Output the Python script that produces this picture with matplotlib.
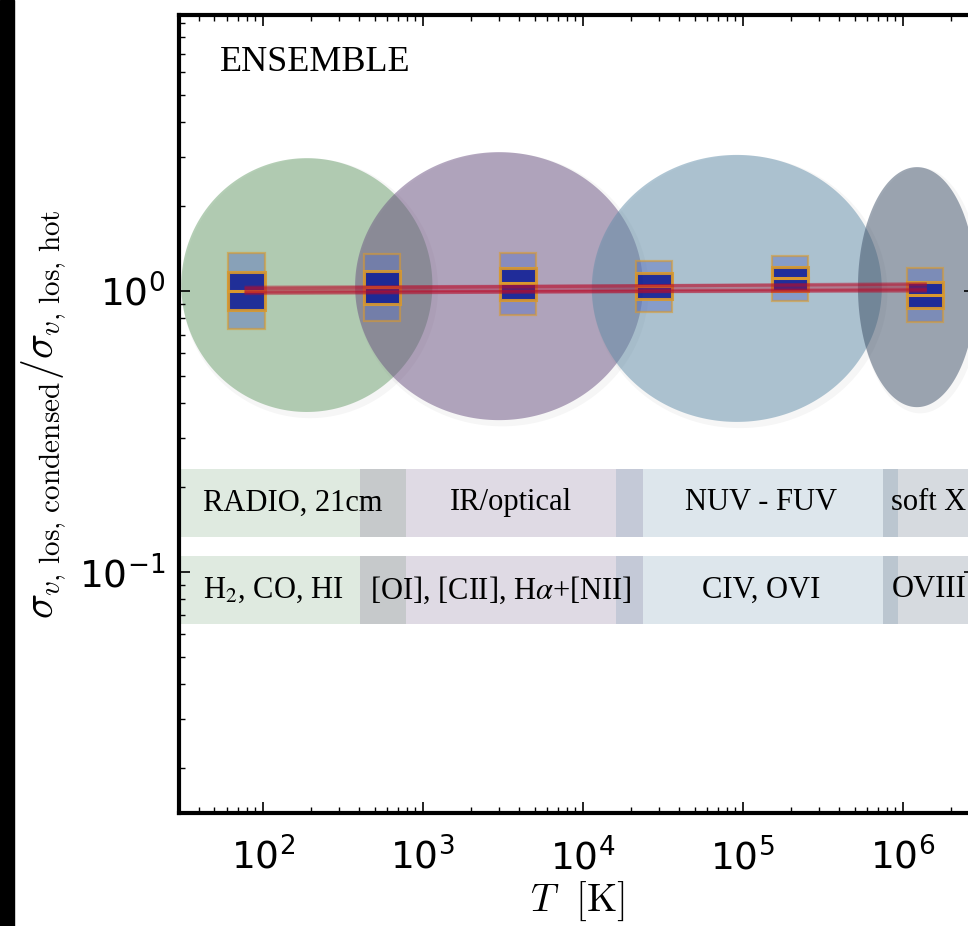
import numpy as np
import matplotlib.pyplot as plt
from matplotlib.patches import Rectangle

plt.rcParams['mathtext.fontset'] = 'cm'
plt.rcParams['axes.unicode_minus'] = False

# box statistics per temperature bin (ratio of velocity dispersions)
T_bins = [79, 557, 3945, 2.79e4, 1.98e5, 1.38e6]
p_lo = [0.732, 0.782, 0.821, 0.842, 0.921, 0.776]
q_lo = [0.856, 0.899, 0.929, 0.937, 1.000, 0.870]
median = [1.000, 1.033, 1.068, 1.042, 1.112, 0.968]
q_hi = [1.168, 1.178, 1.207, 1.159, 1.217, 1.077]
p_hi = [1.365, 1.354, 1.365, 1.279, 1.332, 1.207]

# power-law fits: value at first and at last bin
fit_lo = [1.03, 1.02, 1.00, 0.99, 0.98]
fit_hi = [1.05, 1.06, 1.02, 1.00, 1.01]

# phase regions (ellipses): T range and ratio range
phase_Tmin = [31, 378, 1.14e4, 5.25e5]
phase_Tmax = [1150, 2.38e4, 7.4e5, 2.87e6]
phase_rmin = [0.371, 0.347, 0.342, 0.386]
phase_rmax = [2.97, 3.12, 3.05, 2.76]
phase_colors = ['#6b9f6d', '#6a5181', '#618da9', '#3f5169']

# observational bands
band_Tmin = [30, 405, 1.61e4, 7.5e5]
band_Tmax = [787, 2.38e4, 9.3e5, 1e7]
row1_r = [0.133, 0.233]
row2_r = [0.0653, 0.114]
row1_labels = ['RADIO, 21cm', 'IR/optical', 'NUV - FUV', 'soft X']
row2_labels = ['H$_2$, CO, HI', '[OI], [CII], H$\\alpha$+[NII]', 'CIV, OVI', 'OVIII']
row1_T = [155, 3550, 1.3e5, 8.5e5]
row2_T = [117, 3090, 1.3e5, 8.5e5]

fig = plt.figure(figsize=(9.68, 9.26), dpi=100)
fig.patches.append(Rectangle((0, 0), 14/968, 1, transform=fig.transFigure,
                             color='black', zorder=0))
ax = fig.add_axes([179/968, 113/926, 796/968, 798/926])
ax.set_xscale('log')
ax.set_yscale('log')

# phase ellipses, drawn in log space
t = np.linspace(0, 2*np.pi, 300)
for i in range(4):
    lx0, lx1 = np.log10(phase_Tmin[i]), np.log10(phase_Tmax[i])
    ly0, ly1 = np.log10(phase_rmin[i]), np.log10(phase_rmax[i])
    cx, cy = (lx0 + lx1)/2, (ly0 + ly1)/2
    rx, ry = (lx1 - lx0)/2, (ly1 - ly0)/2
    # soft shadow
    ax.fill(10**(cx + 0.02 + (rx + 0.015)*np.cos(t)), 10**(cy - 0.012 + (ry + 0.01)*np.sin(t)),
            color='0.5', alpha=0.07, lw=0, zorder=1)
    ax.fill(10**(cx + rx*np.cos(t)), 10**(cy + ry*np.sin(t)),
            color=phase_colors[i], alpha=0.5, lw=0, zorder=1)

# bands with labels
for i in range(4):
    for r in (row1_r, row2_r):
        ax.fill_between([band_Tmin[i], band_Tmax[i]], r[0], r[1],
                        color=phase_colors[i], alpha=0.21, lw=0, zorder=1)
for i in range(4):
    ha = 'left' if i == 3 else 'center'
    ax.text(row1_T[i], np.sqrt(row1_r[0]*row1_r[1]), row1_labels[i], ha=ha, va='center',
            fontsize=22, family='Liberation Serif', math_fontfamily='stix', zorder=5)
    ax.text(row2_T[i], np.sqrt(row2_r[0]*row2_r[1]), row2_labels[i], ha=ha, va='center',
            fontsize=22, family='Liberation Serif', math_fontfamily='stix', zorder=5)

# boxes
hw = 10**0.114
orange = (0.85, 0.6, 0.18)
for i, T in enumerate(T_bins):
    x0, x1 = T/hw, T*hw
    ax.add_patch(Rectangle((x0, p_lo[i]), x1 - x0, p_hi[i] - p_lo[i],
                           fc=(0.35, 0.44, 0.76, 0.45), ec=orange + (0.6,), lw=1.6, zorder=3))
    ax.add_patch(Rectangle((x0, q_lo[i]), x1 - x0, q_hi[i] - q_lo[i],
                           fc=(0.07, 0.12, 0.58, 0.88), ec=orange + (0.9,), lw=2.2, zorder=3))
    ax.plot([x0, x1], [median[i], median[i]], color=orange, lw=2.2, zorder=3)

# fit lines
for j in range(len(fit_lo)):
    ax.plot([T_bins[0], T_bins[-1]], [fit_lo[j], fit_hi[j]], color='#b80c2a',
            alpha=0.42, lw=2.5, zorder=4)

ax.text(0.0515, 0.94, 'ENSEMBLE', transform=ax.transAxes, fontsize=26,
        family='Liberation Serif', va='center', ha='left')

ax.set_xlim(30, 2.83e6)
ax.set_ylim(0.01387, 9.6)
for s in ax.spines.values():
    s.set_linewidth(3)
ax.tick_params(which='both', direction='in', top=True, right=True, labelsize=27)
ax.tick_params(axis='x', pad=18)
ax.tick_params(axis='y', pad=10)
ax.tick_params(which='major', length=8, width=1.2)
ax.tick_params(which='minor', length=4, width=1)

ax.set_xlabel(r'$T\ \ [\mathrm{K}]$', fontsize=28, labelpad=1)
ax.set_ylabel(r'$\sigma_{v,\,\mathrm{los,\,condensed}}/\sigma_{v,\,\mathrm{los,\,hot}}$',
              fontsize=30, labelpad=8)

fig.savefig('out.png', dpi=100)
